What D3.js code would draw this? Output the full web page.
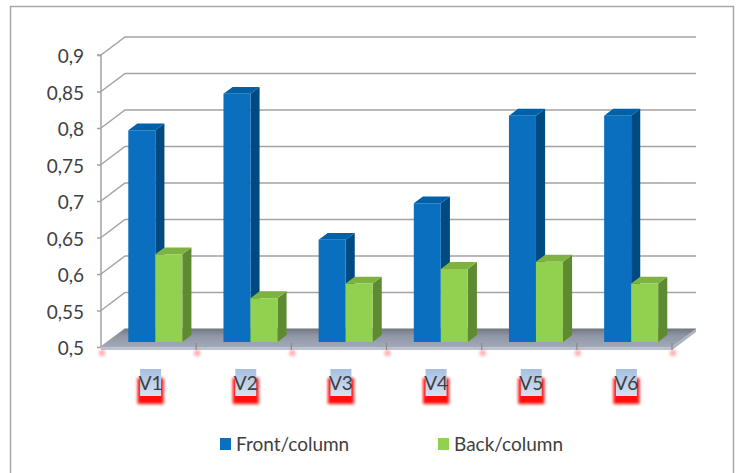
<!DOCTYPE html>
<html>
<head>
<meta charset="utf-8">
<script src="https://cdn.jsdelivr.net/npm/d3@7"></script>
<style>
  html, body { margin: 0; padding: 0; background: #fff; }
  svg { display: block; font-family: Lato, "Open Sans", sans-serif; }
</style>
</head>
<body>
<svg id="chart" width="736" height="473"></svg>
<script>
// Chart data
const categories = ["V1", "V2", "V3", "V4", "V5", "V6"];
const seriesNames = ["Front/column", "Back/column"];
const frontValues = [0.79, 0.84, 0.64, 0.69, 0.81, 0.81];
const backValues = [0.62, 0.56, 0.58, 0.60, 0.61, 0.58];
const yTickValues = [0.5, 0.55, 0.6, 0.65, 0.7, 0.75, 0.8, 0.85, 0.9];

const svg = d3.select("#chart");

// Depth of the 3D box (screen offset for a full unit of depth)
const DX = 24, DY = 18;
const proj = (x, y, z) => [x + z * DX, y - z * DY];

const y = d3.scaleLinear().domain([0.5, 0.9]).range([347, 55]);
const x = d3.scaleBand().domain(categories).range([101, 672]);
const groupW = 54;
const xs = d3.scaleBand().domain(seriesNames).range([0, groupW]);
const zFront = 0.28, zBack = 0.66;

const colors = {
  "Front/column": { front: "#0a6fbf", side: "#004a82", top: "#0060a8" },
  "Back/column":  { front: "#92d050", side: "#5e8a31", top: "#7eb341" }
};

const defs = svg.append("defs");
const fg = defs.append("linearGradient").attr("id", "floorGrad")
  .attr("x1", 0).attr("y1", 0).attr("x2", 0).attr("y2", 1);
fg.append("stop").attr("offset", 0).attr("stop-color", "#737883");
fg.append("stop").attr("offset", 0.35).attr("stop-color", "#8e95a3");
fg.append("stop").attr("offset", 1).attr("stop-color", "#a2a9b9");
const lg = defs.append("linearGradient").attr("id", "labelGrad")
  .attr("x1", 0).attr("y1", 0).attr("x2", 0).attr("y2", 1);
lg.append("stop").attr("offset", 0).attr("stop-color", "#a6bfe2");
lg.append("stop").attr("offset", 1).attr("stop-color", "#d4e1f1");
defs.append("filter").attr("id", "glow").attr("x", "-50%").attr("y", "-50%")
  .attr("width", "200%").attr("height", "200%")
  .append("feGaussianBlur").attr("stdDeviation", 1.6);
defs.append("filter").attr("id", "dotBlur").attr("x", "-100%").attr("y", "-100%")
  .attr("width", "300%").attr("height", "300%")
  .append("feGaussianBlur").attr("stdDeviation", 1.4);

// Outer frame
svg.append("rect").attr("x", 10.5).attr("y", 6.5).attr("width", 723).attr("height", 480)
  .attr("fill", "none").attr("stroke", "#a8a8a8").attr("stroke-width", 1.5);

const x0 = x.range()[0], x1 = x.range()[1];
const grid = svg.append("g").attr("stroke", "#a3a3a3").attr("stroke-width", 1.5).attr("fill", "none");

// Back wall gridlines and left wall diagonals
yTickValues.forEach(v => {
  const a = proj(x0, y(v), 0), b = proj(x0, y(v), 1), c = proj(x1, y(v), 1);
  grid.append("path").attr("d", d3.line()([a, b, c]));
});

// Floor
const floorG = svg.append("g");
const f0 = proj(x0, y(0.5), 0), f1 = proj(x1, y(0.5), 0), f2 = proj(x1, y(0.5), 1), f3 = proj(x0, y(0.5), 1);
floorG.append("path").attr("d", d3.line()([f0, f1, f2, f3]) + "Z").attr("fill", "url(#floorGrad)");
floorG.append("path").attr("d", d3.line()([f0, f1, [f1[0], f1[1] + 3], [f0[0], f0[1] + 3]]) + "Z")
  .attr("fill", "#bcc2d0");
floorG.append("path").attr("d", d3.line()([f1, f2, [f2[0], f2[1] + 3], [f1[0], f1[1] + 3]]) + "Z")
  .attr("fill", "#aab1c0");

// Y axis
const fmt = d3.formatLocale({ decimal: ",", thousands: ".", grouping: [3], currency: ["", ""] }).format(".2~f");
const yAxis = svg.append("g").attr("transform", `translate(${x0},0)`)
  .call(d3.axisLeft(y).tickValues(yTickValues).tickFormat(fmt).tickSize(4).tickPadding(13));
yAxis.selectAll("path, line").attr("stroke", "#a3a3a3").attr("stroke-width", 1.5);
yAxis.select(".domain").attr("d", `M-4,${y(0.9)}H0V${y(0.5)}`);
yAxis.selectAll("text").attr("font-size", 19).attr("fill", "#404040")
  .attr("font-family", "Lato, sans-serif").attr("dy", "0.42em");

// Category ticks on floor front with soft red marks
const bounds = d3.range(categories.length + 1).map(i => x0 + i * x.step());
svg.append("g").selectAll("circle").data(bounds).join("circle")
  .attr("cx", d => d + 1).attr("cy", y(0.5) + 6).attr("r", 3.2)
  .attr("fill", "#ff7a7a").attr("opacity", 0.6).attr("filter", "url(#dotBlur)");
svg.append("g").selectAll("line").data(bounds.slice(1)).join("line")
  .attr("x1", d => d).attr("x2", d => d).attr("y1", y(0.5) - 4).attr("y2", y(0.5) + 3)
  .attr("stroke", "#8a8a8a").attr("stroke-width", 1.2);

// 3D bars
const rows = categories.map((c, i) => ({ cat: c, vals: [frontValues[i], backValues[i]] }));
const barsG = svg.append("g");
rows.forEach(r => {
  const gx = x(r.cat) + (x.bandwidth() - groupW) / 2;
  seriesNames.forEach((s, k) => {
    const v = r.vals[k];
    const bx0 = gx + xs(s), bx1 = bx0 + xs.bandwidth();
    const yb = y(0.5), yt = y(v);
    const col = colors[s];
    const A = proj(bx0, yb, zFront), B = proj(bx1, yb, zFront), C = proj(bx1, yt, zFront), D = proj(bx0, yt, zFront);
    const B2 = proj(bx1, yb, zBack), C2 = proj(bx1, yt, zBack), D2 = proj(bx0, yt, zBack);
    barsG.append("path").attr("d", d3.line()([B, B2, C2, C]) + "Z").attr("fill", col.side);
    barsG.append("path").attr("d", d3.line()([D, C, C2, D2]) + "Z").attr("fill", col.top);
    barsG.append("path").attr("d", d3.line()([A, B, C, D]) + "Z").attr("fill", col.front);
  });
});

// Category labels
const labG = svg.append("g");
categories.forEach(c => {
  const cx = x(c) + x.bandwidth() / 2 + 2;
  labG.append("rect").attr("x", cx - 13).attr("y", 378).attr("width", 26).attr("height", 26)
    .attr("fill", "#ff1010").attr("filter", "url(#glow)");
  labG.append("rect").attr("x", cx - 10.5).attr("y", 369).attr("width", 21).attr("height", 27)
    .attr("fill", "url(#labelGrad)");
  labG.append("text").attr("x", cx).attr("y", 390).attr("text-anchor", "middle")
    .attr("font-size", 19).attr("fill", "#404040").text(c);
});

// Legend
const legend = svg.append("g");
const legendX = [220, 438];
seriesNames.forEach((s, k) => {
  legend.append("rect").attr("x", legendX[k]).attr("y", 438).attr("width", 11).attr("height", 12)
    .attr("fill", colors[s].front);
  legend.append("text").attr("x", legendX[k] + 16).attr("y", 450.5)
    .attr("font-size", 19).attr("fill", "#404040").text(s);
});
</script>
</body>
</html>
